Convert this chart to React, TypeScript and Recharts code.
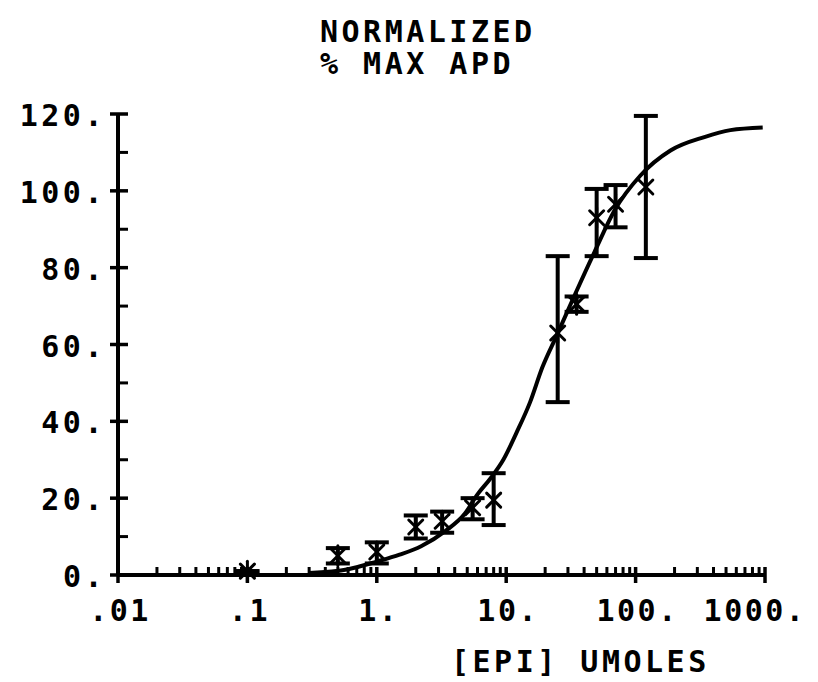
import { ComposedChart, XAxis, YAxis, Scatter, Line, ErrorBar } from 'recharts';

// measured points: [EPI] concentration (umol) vs normalized % max APD
const concentrations = [0.1, 0.5, 1.0, 2.0, 3.2, 5.5, 8.0, 25, 35, 50, 70, 120];
const responses = [1, 5, 6, 12.5, 14, 17.5, 19.5, 63, 70.5, 93, 96.5, 101];
const errLow = [1, 3, 3, 9.5, 11, 14.5, 13, 45, 68.5, 83, 90.5, 82.5];
const errHigh = [1, 7, 8.5, 15.5, 16.5, 20, 26.5, 83, 72.5, 100.5, 101.5, 119.5];

// fitted curve
const fitX = [0.3, 0.6, 1.0, 1.5, 2.2, 3.4, 4.8, 6.0, 7.5, 9.5, 12, 15.3, 19, 24.7, 34, 48, 69, 109, 186, 340, 540, 960];
const fitY = [0.5, 1.5, 3.5, 5.3, 7.5, 11.5, 16, 21, 25, 30, 37, 45, 54, 62.5, 73, 84, 95, 104, 110.5, 114, 115.8, 116.5];

const xTicks = [0.01, 0.1, 1, 10, 100, 1000];
const xTickLabels = ['.01', '.1', '1.', '10.', '100.', '1000.'];
const minorMultipliers = [2, 3, 4, 5, 6, 7, 8, 9];
const yTicks = [0, 10, 20, 30, 40, 50, 60, 70, 80, 90, 100, 110, 120];
const yMajor = [0, 20, 40, 60, 80, 100, 120];

const FONT = '"DejaVu Sans Mono", monospace';

const points = concentrations.map((x, i) => ({
  x,
  y: responses[i],
  err: [responses[i] - errLow[i], errHigh[i] - responses[i]],
}));
const fit = fitX.map((x, i) => ({ x, y: fitY[i] }));
const allXTicks = [
  ...xTicks,
  ...xTicks.slice(0, -1).flatMap((d) => minorMultipliers.map((m) => +(d * m).toPrecision(3))),
].sort((a, b) => a - b);

const textStyle = { fontFamily: FONT, fontSize: 30, fontWeight: 'bold' as const, letterSpacing: 3.5, fill: '#000' };

function XTick({ x, y, payload }: any) {
  const i = xTicks.indexOf(payload.value);
  if (i < 0) {
    return <line x1={x} x2={x} y1={y} y2={y - 8} stroke="#000" strokeWidth={3} />;
  }
  // last label is pulled in a little so it stays on the page
  const dx = i === xTicks.length - 1 ? -10 : 2;
  return (
    <g>
      <line x1={x} x2={x} y1={y - 8} y2={y + 8} stroke="#000" strokeWidth={3.5} />
      <text x={x + dx} y={y + 46} textAnchor="middle" style={{ ...textStyle, letterSpacing: 2.5 }}>
        {xTickLabels[i]}
      </text>
    </g>
  );
}

function YTick({ x, y, payload }: any) {
  if (!yMajor.includes(payload.value)) {
    return <line x1={x} x2={x + 10} y1={y} y2={y} stroke="#000" strokeWidth={3} />;
  }
  return (
    <g>
      <line x1={x - 8} x2={x + 10} y1={y} y2={y} stroke="#000" strokeWidth={3.5} />
      <text x={x - 12} y={y + 12} textAnchor="end" style={textStyle}>
        {`${payload.value}.`}
      </text>
    </g>
  );
}

function Asterisk({ cx, cy }: any) {
  return (
    <g stroke="#000" strokeWidth={3} strokeLinecap="round">
      <line x1={cx} y1={cy - 10} x2={cx} y2={cy + 10} />
      <line x1={cx - 7} y1={cy - 7} x2={cx + 7} y2={cy + 7} />
      <line x1={cx - 7} y1={cy + 7} x2={cx + 7} y2={cy - 7} />
    </g>
  );
}

export default function App() {
  return (
    <div style={{ position: 'absolute', left: 0, top: 0, width: 818, height: 682, background: '#fff' }}>
      <ComposedChart width={818} height={682} margin={{ top: 114, right: 53, bottom: 0, left: 0 }}>
        <XAxis
          dataKey="x"
          type="number"
          scale="log"
          domain={[0.01, 1000]}
          ticks={allXTicks}
          interval={0}
          tickSize={0}
          tickMargin={0}
          tickLine={false}
          tick={<XTick />}
          height={107}
          axisLine={{ stroke: '#000', strokeWidth: 4 }}
          allowDataOverflow
        />
        <YAxis
          type="number"
          domain={[0, 120]}
          ticks={yTicks}
          interval={0}
          tickSize={0}
          tickMargin={0}
          tickLine={false}
          tick={<YTick />}
          width={118}
          axisLine={{ stroke: '#000', strokeWidth: 4 }}
        />
        <Scatter data={points} dataKey="y" shape={<Asterisk />} isAnimationActive={false}>
          <ErrorBar dataKey="err" direction="y" width={12} stroke="#000" strokeWidth={4} isAnimationActive={false} />
        </Scatter>
        <Line
          data={fit}
          dataKey="y"
          type="monotone"
          stroke="#000"
          strokeWidth={4}
          dot={false}
          activeDot={false}
          isAnimationActive={false}
        />
      </ComposedChart>
      <svg width={818} height={682} style={{ position: 'absolute', left: 0, top: 0, pointerEvents: 'none' }}>
        <text x={320} y={42} style={textStyle}>NORMALIZED</text>
        <text x={320} y={74} style={textStyle}>% MAX APD</text>
        <text x={451} y={672} style={textStyle}>[EPI] UMOLES</text>
      </svg>
    </div>
  );
}
